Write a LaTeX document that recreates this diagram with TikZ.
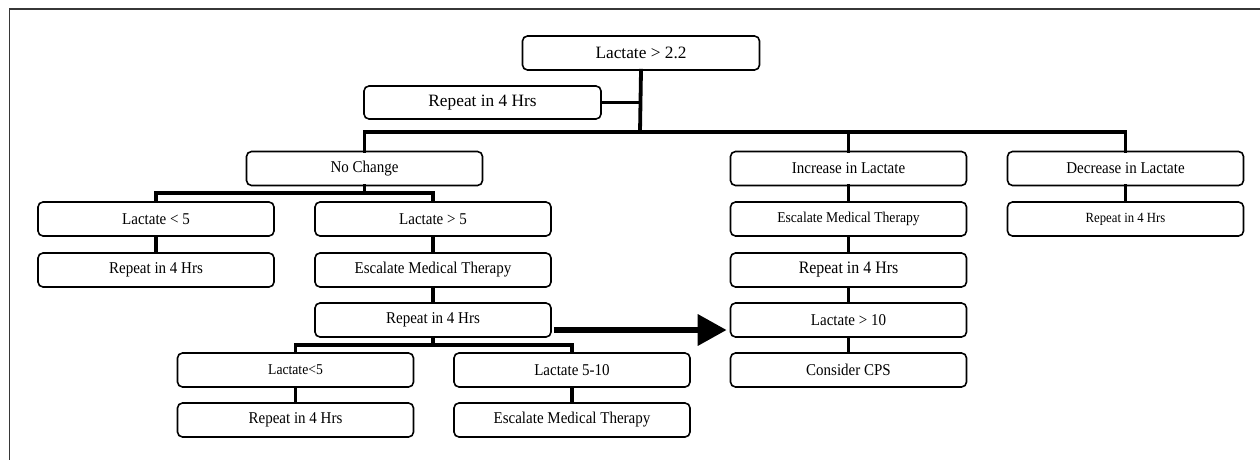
\documentclass[tikz,border=0pt]{standalone}
\usepackage{fontspec}
\setmainfont{Liberation Serif}[FakeStretch=0.91]
\newfontfamily\plainserif{Liberation Serif}
\usetikzlibrary{arrows.meta}
\begin{document}
\begin{tikzpicture}[x=1pt,y=-1pt,
  box/.style={draw=black, line width=1.6pt, rounded corners=5pt, fill=white,
    minimum width=236pt, minimum height=34pt, inner sep=0pt, align=center,
    font=\fontsize{16.5}{19}\selectfont},
  conn/.style={line width=3.8pt, line cap=rect},
  bigarrow/.style={line width=6.5pt, -{Triangle[length=29pt,width=30pt]}, shorten <=2pt, shorten >=3pt},
  framestyle/.style={draw={rgb,255:red,55;green,55;blue,55}, line width=1.6pt}
]
\useasboundingbox (0,0) rectangle (1260,460);
\draw[framestyle] (9.5,460) -- (9.5,9) -- (1260,9);

% coordinates of the bars
\coordinate (b1) at (640,132);
\coordinate (b2) at (364.5,193);
\coordinate (b3) at (433,345);

\node[box, minimum width=237pt, font=\plainserif\fontsize{17.3}{20}\selectfont] (top) at (641,53) {Lactate > 2.2};
\node[box, minimum width=237pt, minimum height=33pt, font=\plainserif\fontsize{17.3}{20}\selectfont] (rep0) at (482.5,102.5) {Repeat in 4 Hrs};
\node[box] (nc) at (364.5,168.5) {No Change};
\node[box] (inc) at (848.5,168.5) {Increase in Lactate};
\node[box] (dec) at (1125.5,168.5) {Decrease in Lactate};
\node[box] (l5a) at (156,219) {Lactate < 5};
\node[box] (g5) at (433,219) {Lactate > 5};
\node[box, font=\fontsize{15}{18}\selectfont] (esc1) at (848.5,219) {Escalate Medical Therapy};
\node[box, font=\fontsize{14}{17}\selectfont] (rep4) at (1125.5,219) {Repeat in 4 Hrs};
\node[box] (rep1) at (156,270) {Repeat in 4 Hrs};
\node[box] (esc2) at (433,270) {Escalate Medical Therapy};
\node[box, font=\fontsize{17.5}{20}\selectfont] (rep2) at (848.5,270) {Repeat in 4 Hrs};
\node[box] (rep3) at (433,320) {Repeat in 4 Hrs};
\node[box] (g10) at (848.5,320) {Lactate > 10};
\node[box] (cps) at (848.5,370) {Consider CPS};
\node[box, font=\fontsize{15}{18}\selectfont] (l5b) at (295.5,370) {Lactate<5};
\node[box] (l510) at (572,370) {Lactate 5-10};
\node[box] (rep5) at (295.5,420) {Repeat in 4 Hrs};
\node[box] (esc3) at (572,420) {Escalate Medical Therapy};

% top branch
\draw[conn] (top.south) -- (b1);
\draw[conn] (rep0.east) -- (rep0.east -| b1);
\draw[conn] (nc.north) -- (nc.north |- b1) -- (dec.north |- b1) -- (dec.north);
\draw[conn] (inc.north) -- (inc.north |- b1);

% no change branch
\draw[conn] (nc.south) -- (b2);
\draw[conn] (l5a.north) -- (l5a.north |- b2) -- (g5.north |- b2) -- (g5.north);
\draw[conn] (l5a.south) -- (rep1.north);
\draw[conn] (g5.south) -- (esc2.north);
\draw[conn] (esc2.south) -- (rep3.north);
\draw[conn] (rep3.south) -- (b3);
\draw[conn] (l5b.north) -- (l5b.north |- b3) -- (l510.north |- b3) -- (l510.north);
\draw[conn] (l5b.south) -- (rep5.north);
\draw[conn] (l510.south) -- (esc3.north);

% increase column
\draw[conn] (inc.south) -- (esc1.north);
\draw[conn] (esc1.south) -- (rep2.north);
\draw[conn] (rep2.south) -- (g10.north);
\draw[conn] (g10.south) -- (cps.north);

% decrease column
\draw[conn] (dec.south) -- (rep4.north);

% big arrow
\draw[bigarrow] ([yshift=-10pt]rep3.east) -- ([yshift=-10pt]g10.west);
\end{tikzpicture}
\end{document}
